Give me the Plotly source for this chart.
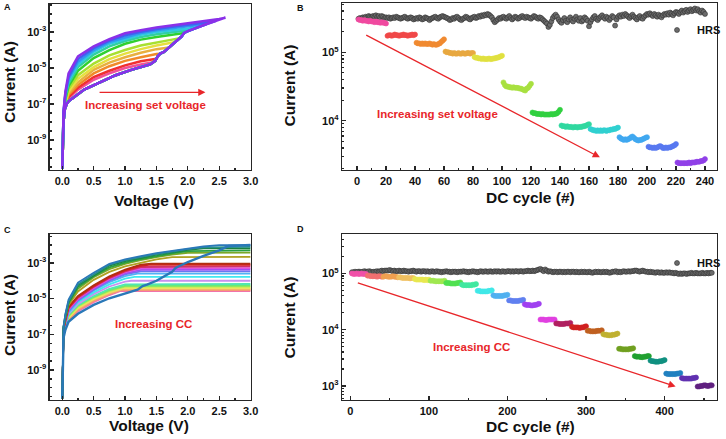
import plotly.graph_objects as go

W, H = 726, 439
FONT = "Liberation Sans, Arial, Helvetica, sans-serif"
RED = "#e8262a"
AXC = "#262626"

# ================= Panel A : I-V loops, increasing set voltage =================
A_hrs_v = [0.0, 0.01, 0.02, 0.04, 0.07, 0.1, 0.2, 0.35, 0.6, 0.85, 1.1, 1.4, 1.48, 1.52,
           1.56, 1.62, 1.85, 1.9, 1.94, 2.0, 2.3, 2.6]
A_hrs_logi = [-10.6, -9.3, -8.0, -7.3, -7.0, -6.85, -6.6, -6.2, -5.8, -5.4, -5.1, -4.8, -4.6, -4.35,
              -4.2, -4.1, -3.4, -3.25, -3.05, -2.95, -2.55, -2.2]
A_lrs_v = [0.0, 0.02, 0.05, 0.1, 0.25, 0.5, 0.75, 1.0, 1.25, 1.5, 1.75, 2.0, 2.25, 2.5]
A_vmax = [1.45, 1.5, 1.56, 1.7, 1.8, 1.87, 1.94, 2.05, 2.15, 2.3, 2.45, 2.6]
A_tip_logi = [-4.68, -4.48, -4.2, -3.86, -3.55, -3.34, -3.05, -2.88, -2.75, -2.55, -2.37, -2.2]
A_lrs_logi = [
    [-10.6, -7.9, -7.1, -6.7, -6.2, -5.65, -5.3, -5.0, -4.8],
    [-10.6, -7.85, -7.05, -6.6, -6.1, -5.5, -5.15, -4.85, -4.62],
    [-10.6, -7.8, -7.0, -6.5, -5.95, -5.3, -4.9, -4.6, -4.4, -4.22],
    [-10.6, -7.75, -6.95, -6.4, -5.8, -5.1, -4.7, -4.4, -4.15, -3.95],
    [-10.6, -7.7, -6.9, -6.3, -5.6, -4.95, -4.5, -4.2, -3.95, -3.75, -3.58],
    [-10.6, -7.65, -6.8, -6.15, -5.4, -4.75, -4.3, -4.0, -3.75, -3.58, -3.42],
    [-10.6, -7.6, -6.7, -6.0, -5.15, -4.45, -4.0, -3.65, -3.42, -3.27, -3.13],
    [-10.6, -7.55, -6.6, -5.85, -4.95, -4.25, -3.8, -3.5, -3.28, -3.12, -3.0, -2.9],
    [-10.6, -7.5, -6.5, -5.7, -4.8, -4.1, -3.65, -3.38, -3.15, -3.0, -2.88, -2.8],
    [-10.6, -7.5, -6.45, -5.6, -4.65, -4.0, -3.55, -3.28, -3.05, -2.9, -2.78, -2.68, -2.58],
    [-10.6, -7.45, -6.4, -5.5, -4.5, -3.9, -3.48, -3.18, -2.98, -2.83, -2.7, -2.58, -2.48],
    [-10.6, -7.4, -6.3, -5.3, -4.35, -3.8, -3.4, -3.07, -2.9, -2.75, -2.62, -2.5, -2.38, -2.27],
]
A_colors = ["#f0509a", "#f03030", "#f08a28", "#e8b040", "#e6e040", "#a8e030",
            "#30d030", "#30d0a0", "#30c8e0", "#3098f0", "#4060f0", "#8a30e8"]

# ================= Panel B : DC cycles, increasing set voltage =================
B_hrs_log = [
    5.49, 5.50, 5.49, 5.51, 5.50, 5.52, 5.51, 5.53, 5.52, 5.51, 5.53, 5.52, 5.54, 5.52, 5.53, 5.51, 5.53, 5.52, 5.50, 5.51,
    5.50, 5.51, 5.49, 5.50, 5.51, 5.50, 5.52, 5.51, 5.50, 5.49, 5.50, 5.51, 5.52, 5.50, 5.49, 5.50, 5.51, 5.50, 5.48, 5.49,
    5.50, 5.49, 5.51, 5.50, 5.48, 5.49, 5.51, 5.50, 5.49, 5.47, 5.49, 5.50, 5.51, 5.52, 5.50, 5.49, 5.51, 5.52, 5.53, 5.52,
    5.51, 5.50, 5.49, 5.47, 5.48, 5.50, 5.49, 5.51, 5.52, 5.50, 5.48, 5.47, 5.49, 5.50, 5.52, 5.51, 5.49, 5.48, 5.50, 5.51,
    5.52, 5.50, 5.51, 5.53, 5.52, 5.54, 5.53, 5.55, 5.54, 5.56, 5.55, 5.53, 5.51, 5.47, 5.44, 5.46, 5.48, 5.50, 5.49, 5.51,
    5.52, 5.50, 5.49, 5.51, 5.53, 5.50, 5.48, 5.50, 5.52, 5.51, 5.49, 5.50, 5.52, 5.53, 5.51, 5.50, 5.52, 5.51, 5.50, 5.49,
    5.51, 5.53, 5.52, 5.50, 5.49, 5.51, 5.50, 5.48, 5.46, 5.44, 5.42, 5.37, 5.40, 5.45, 5.50, 5.53, 5.55, 5.52, 5.48, 5.45,
    5.43, 5.47, 5.50, 5.46, 5.44, 5.48, 5.51, 5.47, 5.45, 5.49, 5.52, 5.48, 5.46, 5.50, 5.45, 5.47, 5.51, 5.49, 5.46, 5.38,
    5.44, 5.48, 5.51, 5.53, 5.49, 5.47, 5.50, 5.52, 5.54, 5.51, 5.49, 5.52, 5.50, 5.47, 5.50, 5.53, 5.51, 5.39, 5.48, 5.52,
    5.54, 5.52, 5.55, 5.53, 5.56, 5.54, 5.52, 5.50, 5.53, 5.55, 5.52, 5.50, 5.48, 5.51, 5.53, 5.50, 5.49, 5.52, 5.54, 5.56,
    5.55, 5.57, 5.55, 5.53, 5.56, 5.54, 5.52, 5.55, 5.53, 5.51, 5.54, 5.56, 5.55, 5.57, 5.55, 5.58, 5.56, 5.54, 5.57, 5.59,
    5.58, 5.56, 5.59, 5.61, 5.58, 5.60, 5.62, 5.59, 5.61, 5.63, 5.60, 5.62, 5.64, 5.61, 5.63, 5.60, 5.58, 5.61, 5.59, 5.56,
]
B_lrs_log = [
    [5.48, 5.47, 5.47, 5.46, 5.47, 5.46, 5.46, 5.45, 5.46, 5.45, 5.45, 5.44, 5.45, 5.44, 5.44, 5.43, 5.44, 5.43, 5.43, 5.42],
    [5.24, 5.25, 5.25, 5.24, 5.25, 5.26, 5.25, 5.25, 5.24, 5.25, 5.25, 5.26, 5.25, 5.25, 5.24, 5.25, 5.25, 5.26, 5.25, 5.26],
    [5.14, 5.13, 5.13, 5.12, 5.13, 5.12, 5.13, 5.12, 5.12, 5.13, 5.12, 5.11, 5.12, 5.11, 5.11, 5.12, 5.13, 5.15, 5.17, 5.19],
    [5.01, 5.00, 5.00, 4.99, 4.99, 4.98, 4.99, 4.98, 4.98, 4.99, 4.98, 4.98, 4.99, 4.98, 4.98, 4.99, 4.99, 4.98, 4.99, 4.99],
    [4.93, 4.92, 4.92, 4.91, 4.91, 4.90, 4.91, 4.90, 4.90, 4.90, 4.91, 4.90, 4.90, 4.91, 4.91, 4.92, 4.92, 4.93, 4.94, 4.95],
    [4.56, 4.52, 4.50, 4.50, 4.49, 4.49, 4.48, 4.49, 4.48, 4.48, 4.48, 4.47, 4.47, 4.46, 4.45, 4.44, 4.47, 4.48, 4.51, 4.54],
    [4.12, 4.11, 4.11, 4.10, 4.10, 4.10, 4.09, 4.10, 4.09, 4.09, 4.09, 4.09, 4.09, 4.10, 4.09, 4.10, 4.10, 4.11, 4.13, 4.16],
    [3.93, 3.92, 3.92, 3.91, 3.92, 3.91, 3.91, 3.91, 3.90, 3.91, 3.91, 3.90, 3.91, 3.91, 3.91, 3.92, 3.92, 3.93, 3.94, 3.95],
    [3.88, 3.87, 3.86, 3.86, 3.85, 3.86, 3.85, 3.86, 3.85, 3.86, 3.86, 3.85, 3.86, 3.86, 3.87, 3.87, 3.88, 3.88, 3.89, 3.90],
    [3.76, 3.74, 3.73, 3.72, 3.73, 3.72, 3.73, 3.74, 3.76, 3.77, 3.75, 3.73, 3.72, 3.71, 3.72, 3.72, 3.73, 3.74, 3.75, 3.76],
    [3.62, 3.61, 3.61, 3.60, 3.61, 3.60, 3.61, 3.62, 3.63, 3.62, 3.60, 3.60, 3.61, 3.60, 3.61, 3.61, 3.62, 3.63, 3.64, 3.66],
    [3.39, 3.38, 3.38, 3.38, 3.38, 3.38, 3.38, 3.38, 3.39, 3.38, 3.39, 3.39, 3.39, 3.40, 3.40, 3.40, 3.41, 3.41, 3.42, 3.44],
]
B_colors = ["#f04aa0", "#f04848", "#f08a30", "#e8a840", "#e0e040", "#a8e040",
            "#30d040", "#30d8a0", "#30d0d0", "#40a8f0", "#5878f0", "#9040e8"]

# ================= Panel C : I-V loops, increasing CC =================
C_hrs_v = [0.0, 0.01, 0.02, 0.05, 0.1, 0.25, 0.5, 0.75, 1.0, 1.2, 1.28, 1.35, 1.5, 1.75, 1.8, 1.85,
           2.0, 2.25, 2.5, 2.65, 3.0]
C_hrs_logi = [-10.6, -9.0, -7.2, -6.75, -6.3, -5.85, -5.35, -4.98, -4.72, -4.5, -4.3, -4.22, -4.0, -3.5,
              -3.3, -3.2, -2.95, -2.6, -2.3, -2.05, -2.0]
C_lrs_v = [0.0, 0.02, 0.05, 0.1, 0.25, 0.5, 0.75, 1.0, 1.25, 1.5, 1.75, 2.0, 2.25]
C_vend = 3.0
C_cc_logi = [-4.58, -4.54, -4.49, -4.44, -4.39, -4.33, -4.27, -4.18, -4.0, -3.78, -3.6, -3.47,
             -3.37, -3.29, -3.19, -3.11, -3.04, -2.66, -2.42, -2.3, -2.18, -2.1, -2.0]
C_knee_v = [0.92, 0.93, 0.95, 0.97, 0.98, 1.0, 1.02, 1.05, 1.1, 1.15, 1.2, 1.25,
            1.3, 1.3, 1.35, 1.38, 1.42, 1.8, 2.05, 2.15, 2.25, 2.35, 2.5]
C_lrs_logi = [
    [-10.6, -6.9, -6.65, -6.25, -5.7, -5.2, -4.8],
    [-10.6, -6.9, -6.6, -6.2, -5.65, -5.15, -4.76],
    [-10.6, -6.9, -6.6, -6.15, -5.6, -5.1, -4.72],
    [-10.6, -6.85, -6.55, -6.1, -5.55, -5.05, -4.68],
    [-10.6, -6.85, -6.55, -6.05, -5.5, -5.0, -4.63],
    [-10.6, -6.85, -6.5, -6.0, -5.45, -4.95, -4.58],
    [-10.6, -6.85, -6.5, -5.95, -5.4, -4.9, -4.52, -4.28],
    [-10.6, -6.8, -6.45, -5.9, -5.35, -4.85, -4.45, -4.2],
    [-10.6, -6.8, -6.45, -5.85, -5.3, -4.75, -4.32, -4.05],
    [-10.6, -6.8, -6.4, -5.8, -5.2, -4.65, -4.2, -3.88],
    [-10.6, -6.75, -6.35, -5.75, -5.15, -4.55, -4.08, -3.74],
    [-10.6, -6.75, -6.3, -5.7, -5.1, -4.5, -4.0, -3.64],
    [-10.6, -6.75, -6.3, -5.65, -5.05, -4.45, -3.95, -3.58, -3.39],
    [-10.6, -6.7, -6.25, -5.6, -5.0, -4.4, -3.9, -3.52, -3.31],
    [-10.6, -6.7, -6.2, -5.55, -4.95, -4.35, -3.85, -3.47, -3.23],
    [-10.6, -6.7, -6.2, -5.5, -4.9, -4.3, -3.8, -3.42, -3.16],
    [-10.6, -6.7, -6.15, -5.45, -4.85, -4.25, -3.75, -3.37, -3.1],
    [-10.6, -6.65, -6.05, -5.35, -4.6, -3.95, -3.5, -3.2, -2.98, -2.8, -2.68],
    [-10.6, -6.65, -6.0, -5.3, -4.45, -3.8, -3.35, -3.05, -2.85, -2.67, -2.54, -2.43],
    [-10.6, -6.6, -6.0, -5.25, -4.35, -3.75, -3.25, -2.98, -2.78, -2.6, -2.46, -2.34],
    [-10.6, -6.6, -5.95, -5.2, -4.25, -3.7, -3.15, -2.9, -2.72, -2.53, -2.4, -2.27],
    [-10.6, -6.6, -5.9, -5.15, -4.2, -3.65, -3.1, -2.85, -2.68, -2.5, -2.36, -2.23, -2.13],
    [-10.6, -6.55, -5.85, -5.05, -4.1, -3.55, -3.05, -2.8, -2.62, -2.45, -2.32, -2.2, -2.08],
]
C_colors = ["#f26bb5", "#f48a8a", "#f5a860", "#f0c870", "#eaea60", "#b8ec50", "#70e870",
            "#50e8b0", "#c890f0", "#40e8f0", "#50b4f4", "#6a78f0", "#a050f0", "#e050e0",
            "#d0306a", "#d82020", "#b03010", "#b0a020", "#7aa828", "#2aa040", "#1a8040",
            "#28908a", "#2a78b8"]

# ================= Panel D : DC cycles, increasing CC =================
D_hrs_log = [
    5.02, 5.02, 5.03, 5.02, 5.03, 5.03, 5.02, 5.03, 5.04, 5.03, 5.03, 5.04, 5.03, 5.02, 5.03, 5.03, 5.04, 5.03, 5.04, 5.05, 5.04, 5.05, 5.05,
    5.05, 5.06, 5.05, 5.04, 5.05, 5.04, 5.04, 5.05, 5.04, 5.04, 5.05, 5.04, 5.04, 5.03, 5.04, 5.04, 5.05, 5.04, 5.03, 5.04, 5.04, 5.03, 5.04,
    5.04, 5.03, 5.04, 5.03, 5.03, 5.04, 5.03, 5.03, 5.04, 5.03, 5.03, 5.02, 5.03, 5.03, 5.04, 5.03, 5.03, 5.02, 5.03, 5.03, 5.03, 5.02, 5.03,
    5.03, 5.03, 5.04, 5.03, 5.03, 5.02, 5.03, 5.03, 5.04, 5.03, 5.03, 5.02, 5.03, 5.04, 5.03, 5.03, 5.04, 5.03, 5.03, 5.04, 5.03, 5.03, 5.04,
    5.03, 5.04, 5.03, 5.03, 5.04, 5.03, 5.03, 5.04, 5.04, 5.03, 5.04, 5.03, 5.04, 5.04, 5.03, 5.04, 5.04, 5.03, 5.04, 5.04, 5.05, 5.04, 5.04,
    5.05, 5.04, 5.05, 5.06, 5.07, 5.08, 5.06, 5.04, 5.07, 5.05, 5.03, 5.04, 5.03, 5.02, 5.03, 5.03, 5.02, 5.03, 5.03, 5.02, 5.03, 5.02, 5.03,
    5.03, 5.02, 5.03, 5.03, 5.02, 5.03, 5.02, 5.02, 5.03, 5.02, 5.03, 5.02, 5.02, 5.03, 5.02, 5.01, 5.02, 5.03, 5.02, 5.03, 5.02, 5.02, 5.03,
    5.02, 5.03, 5.02, 5.01, 5.02, 5.03, 5.03, 5.04, 5.02, 5.03, 5.02, 5.03, 5.04, 5.03, 5.03, 5.04, 5.03, 5.04, 5.04, 5.05, 5.05, 5.04, 5.03,
    5.04, 5.05, 5.04, 5.03, 5.03, 5.02, 5.03, 5.02, 5.02, 5.01, 5.02, 5.02, 5.01, 5.02, 5.01, 5.01, 5.02, 5.01, 5.02, 5.01, 5.01, 5.00, 5.01,
    5.00, 4.99, 5.00, 4.99, 5.00, 5.00, 4.99, 5.00, 5.00, 5.01, 5.00, 5.00, 5.01, 5.00, 5.00, 5.00, 5.01, 5.00, 5.00, 5.01, 5.00, 5.01, 5.01,
]
D_lrs_log = [
    [5.00, 4.99, 4.99, 5.00, 4.99, 4.99, 5.00, 4.99, 4.99, 4.99],
    [4.96, 4.96, 4.95, 4.95, 4.95, 4.95, 4.94, 4.95, 4.95, 4.94],
    [4.94, 4.95, 4.95, 4.94, 4.94, 4.94, 4.95, 4.94, 4.94, 4.93],
    [4.93, 4.93, 4.92, 4.92, 4.92, 4.92, 4.92, 4.91, 4.92, 4.92],
    [4.90, 4.89, 4.89, 4.89, 4.89, 4.89, 4.88, 4.89, 4.88, 4.89],
    [4.87, 4.87, 4.87, 4.86, 4.86, 4.86, 4.86, 4.86, 4.86, 4.87],
    [4.83, 4.83, 4.83, 4.82, 4.82, 4.82, 4.82, 4.83, 4.83, 4.84],
    [4.80, 4.79, 4.79, 4.79, 4.79, 4.79, 4.79, 4.80, 4.80, 4.81],
    [4.69, 4.69, 4.68, 4.68, 4.68, 4.68, 4.68, 4.69, 4.69, 4.70],
    [4.61, 4.60, 4.60, 4.60, 4.60, 4.60, 4.60, 4.61, 4.61, 4.62],
    [4.52, 4.52, 4.51, 4.51, 4.51, 4.51, 4.51, 4.52, 4.52, 4.53],
    [4.45, 4.44, 4.44, 4.44, 4.43, 4.43, 4.44, 4.44, 4.45, 4.46],
    [4.18, 4.18, 4.18, 4.17, 4.17, 4.18, 4.18, 4.18, 4.18, 4.18],
    [4.11, 4.11, 4.10, 4.10, 4.10, 4.10, 4.11, 4.11, 4.11, 4.12],
    [4.05, 4.04, 4.04, 4.04, 4.04, 4.03, 4.04, 4.04, 4.05, 4.06],
    [3.98, 3.98, 3.97, 3.97, 3.97, 3.97, 3.98, 3.98, 3.98, 3.99],
    [3.92, 3.91, 3.91, 3.90, 3.90, 3.90, 3.91, 3.91, 3.92, 3.93],
    [3.66, 3.66, 3.65, 3.65, 3.65, 3.65, 3.65, 3.66, 3.66, 3.67],
    [3.53, 3.52, 3.52, 3.52, 3.51, 3.51, 3.52, 3.52, 3.53, 3.53],
    [3.45, 3.44, 3.44, 3.43, 3.43, 3.43, 3.44, 3.44, 3.45, 3.46],
    [3.22, 3.21, 3.21, 3.21, 3.21, 3.21, 3.21, 3.22, 3.22, 3.23],
    [3.14, 3.13, 3.13, 3.13, 3.13, 3.13, 3.13, 3.14, 3.14, 3.15],
    [2.99, 2.99, 3.00, 3.00, 3.01, 3.01, 3.00, 3.00, 3.01, 3.01],
]
D_colors = ["#f050a8", "#f07070", "#f0a050", "#f0c060", "#e8e850", "#a0e850", "#50e050",
            "#40e8a0", "#40e8e8", "#50b0f0", "#6080f0", "#a040f0", "#e040e0", "#b02060",
            "#d02020", "#c06020", "#c0b030", "#70a020", "#20a030", "#109080", "#2080c0",
            "#6030b0", "#602080"]

# tick labels
A_xticks = [0.0, 0.5, 1.0, 1.5, 2.0, 2.5, 3.0]
AC_yticks = [-9, -7, -5, -3]
B_xticks = [0, 20, 40, 60, 80, 100, 120, 140, 160, 180, 200, 220, 240]
B_yticks = [4, 5]
D_xticks = [0, 100, 200, 300, 400]
D_yticks = [3, 4, 5]


def pw(v):
    return [10 ** e for e in v]


fig = go.Figure()

# ---- Panel A traces ----
for k in range(len(A_vmax)):
    vm = A_vmax[k]
    hv = [v for v in A_hrs_v if v < vm]
    hl = A_hrs_logi[:len(hv)]
    row = A_lrs_logi[k]
    lv = A_lrs_v[:len(row)]
    xs = hv + [vm] + lv[::-1]
    ys = hl + [A_tip_logi[k]] + row[::-1]
    fig.add_trace(go.Scatter(x=xs, y=pw(ys), mode="lines", xaxis="x", yaxis="y",
                             line=dict(color=A_colors[k], width=2.5), showlegend=False,
                             hoverinfo="skip"))

# ---- Panel B traces ----
fig.add_trace(go.Scatter(x=list(range(1, len(B_hrs_log) + 1)), y=pw(B_hrs_log), mode="markers",
                         xaxis="x2", yaxis="y2", name="HRS", legend="legend",
                         marker=dict(size=5, color="#6b6b6b", line=dict(color="#303030", width=0.6))))
for g, row in enumerate(B_lrs_log):
    xs = [20 * g + i + 1 for i in range(len(row))]
    fig.add_trace(go.Scatter(x=xs, y=pw(row), mode="markers", xaxis="x2", yaxis="y2",
                             marker=dict(size=5, color=B_colors[g], line=dict(color=B_colors[g], width=0.6)),
                             showlegend=False, hoverinfo="skip"))

# ---- Panel C traces ----
for k in range(len(C_cc_logi)):
    row = C_lrs_logi[k]
    lv = C_lrs_v[:len(row)]
    xs = [C_vend, C_knee_v[k]] + lv[::-1]
    ys = [C_cc_logi[k], C_cc_logi[k]] + row[::-1]
    fig.add_trace(go.Scatter(x=xs, y=pw(ys), mode="lines", xaxis="x3", yaxis="y3",
                             line=dict(color=C_colors[k], width=1.8), showlegend=False,
                             hoverinfo="skip"))
fig.add_trace(go.Scatter(x=C_hrs_v, y=pw(C_hrs_logi), mode="lines", xaxis="x3", yaxis="y3",
                         line=dict(color="#2a78b8", width=2.4), showlegend=False, hoverinfo="skip"))

# ---- Panel D traces ----
fig.add_trace(go.Scatter(x=[2 * (i + 1) for i in range(len(D_hrs_log))], y=pw(D_hrs_log),
                         mode="markers", xaxis="x4", yaxis="y4", name="HRS", legend="legend2",
                         marker=dict(size=5, color="#6b6b6b", line=dict(color="#303030", width=0.6))))
for g, row in enumerate(D_lrs_log):
    xs = [20 * g + 2 * (i + 1) for i in range(len(row))]
    fig.add_trace(go.Scatter(x=xs, y=pw(row), mode="markers", xaxis="x4", yaxis="y4",
                             marker=dict(size=5, color=D_colors[g], line=dict(color=D_colors[g], width=0.6)),
                             showlegend=False, hoverinfo="skip"))


def dx(a, b):
    return [a / W, b / W]


def dy(top, bottom):
    return [1 - bottom / H, 1 - top / H]


tickfont = dict(family=FONT, size=11, color="#111111", weight="bold")
base = dict(showline=True, linecolor=AXC, linewidth=1.3, mirror=True, ticks="inside",
            ticklen=4, tickwidth=1.2, tickcolor=AXC, showgrid=False, zeroline=False,
            automargin=False, tickfont=tickfont)


def sup(e):
    return "10<sup>%d</sup>" % e


ac_minor = [10 ** (e / 2) for e in range(-22, -1) if (e / 2) not in AC_yticks]
bd_minor = [m * 10 ** e for e in range(2, 6) for m in range(2, 10)]

fig.update_layout(
    width=W, height=H, margin=dict(l=0, r=0, t=0, b=0),
    paper_bgcolor="white", plot_bgcolor="white",
    font=dict(family=FONT, size=11, color="#111111", weight="bold"),
    xaxis=dict(base, domain=dx(50, 252), range=[-0.2, 3.0], anchor="y",
               tickvals=A_xticks, ticktext=["%.1f" % v for v in A_xticks],
               minor=dict(ticks="inside", ticklen=2, tickcolor=AXC, dtick=0.25)),
    yaxis=dict(base, domain=dy(4, 170), type="log", range=[-10.67, -1.44], anchor="x",
               tickvals=[10 ** e for e in AC_yticks], ticktext=[sup(e) for e in AC_yticks],
               minor=dict(ticks="inside", ticklen=2, tickcolor=AXC, tickvals=ac_minor)),
    xaxis2=dict(base, domain=dx(344, 721), range=[-10.3, 248.3], anchor="y2",
                tickvals=B_xticks, minor=dict(ticks="inside", ticklen=2, tickcolor=AXC, dtick=10)),
    yaxis2=dict(base, domain=dy(3, 170), type="log", range=[3.28, 5.72], anchor="x2",
                tickvals=[10 ** e for e in B_yticks], ticktext=[sup(e) for e in B_yticks],
                minor=dict(ticks="inside", ticklen=2, tickcolor=AXC, tickvals=bd_minor)),
    xaxis3=dict(base, domain=dx(50, 252), range=[-0.2, 3.0], anchor="y3",
                tickvals=A_xticks, ticktext=["%.1f" % v for v in A_xticks],
                minor=dict(ticks="inside", ticklen=2, tickcolor=AXC, dtick=0.25)),
    yaxis3=dict(base, domain=dy(234, 400), type="log", range=[-10.68, -1.38], anchor="x3",
                tickvals=[10 ** e for e in AC_yticks], ticktext=[sup(e) for e in AC_yticks],
                minor=dict(ticks="inside", ticklen=2, tickcolor=AXC, tickvals=ac_minor)),
    xaxis4=dict(base, domain=dx(344, 721), range=[-10.5, 466.7], anchor="y4",
                tickvals=D_xticks, minor=dict(ticks="inside", ticklen=2, tickcolor=AXC, dtick=50)),
    yaxis4=dict(base, domain=dy(234, 400), type="log", range=[2.75, 5.70], anchor="x4",
                tickvals=[10 ** e for e in D_yticks], ticktext=[sup(e) for e in D_yticks],
                minor=dict(ticks="inside", ticklen=2, tickcolor=AXC, tickvals=bd_minor)),
    legend=dict(x=661 / W, y=1 - 30 / H, xanchor="left", yanchor="middle",
                bgcolor="rgba(0,0,0,0)", font=dict(family=FONT, size=11, weight="bold"),
                itemwidth=30),
    legend2=dict(x=661 / W, y=1 - 263 / H, xanchor="left", yanchor="middle",
                 bgcolor="rgba(0,0,0,0)", font=dict(family=FONT, size=11, weight="bold"),
                 itemwidth=30),
)

ann = []
TF = dict(family=FONT, size=15.5, color="#111111", weight="bold")
# axis titles
for (x, y, t, ang) in [(9, 82, "Current (A)", -90), (155, 200, "Voltage (V)", 0),
                       (291, 85, "Current (A)", -90), (533, 197, "DC cycle (#)", 0),
                       (9, 315, "Current (A)", -90), (150, 425, "Voltage (V)", 0),
                       (291, 317, "Current (A)", -90), (533, 426, "DC cycle (#)", 0)]:
    ann.append(dict(x=x / W, y=1 - y / H, xref="paper", yref="paper", text=t, showarrow=False,
                    textangle=ang, font=TF, xanchor="center", yanchor="middle"))
# panel letters
for (x, y, t) in [(8, 7, "A"), (302, 8, "B"), (8, 230, "C"), (302, 229, "D")]:
    ann.append(dict(x=x / W, y=1 - y / H, xref="paper", yref="paper", text=t, showarrow=False,
                    font=dict(family=FONT, size=9, color="#111111", weight="bold"),
                    xanchor="center", yanchor="middle"))
RF = dict(family=FONT, size=11.5, color=RED, weight="bold")
# red text labels
ann.append(dict(x=1.32, y=-7.07, xref="x", yref="y", text="Increasing set voltage",
                showarrow=False, font=RF))
ann.append(dict(x=55.5, y=4.098, xref="x2", yref="y2", text="Increasing set voltage",
                showarrow=False, font=RF))
ann.append(dict(x=1.45, y=-6.41, xref="x3", yref="y3", text="Increasing CC",
                showarrow=False, font=RF))
ann.append(dict(x=154, y=3.686, xref="x4", yref="y4", text="Increasing CC",
                showarrow=False, font=RF))
# red arrows
for (xr, yr, x0, y0, x1, y1) in [("x", "y", 0.57, -6.35, 2.28, -6.35),
                                 ("x2", "y2", 5.3, 5.263, 167.5, 3.465),
                                 ("x4", "y4", 7.6, 4.84, 414, 2.99)]:
    ann.append(dict(x=x1, y=y1, ax=x0, ay=y0, xref=xr, yref=yr, axref=xr, ayref=yr, text="",
                    showarrow=True, arrowhead=2, arrowsize=1.1, arrowwidth=1.3, arrowcolor=RED))
fig.update_layout(annotations=ann)

fig.write_html("out.html", config={"displayModeBar": False, "staticPlot": True},
               post_script="document.body.style.margin='0';document.body.style.padding='0';"
                           "document.body.style.overflow='hidden';"
                           "document.documentElement.style.overflow='hidden';")
